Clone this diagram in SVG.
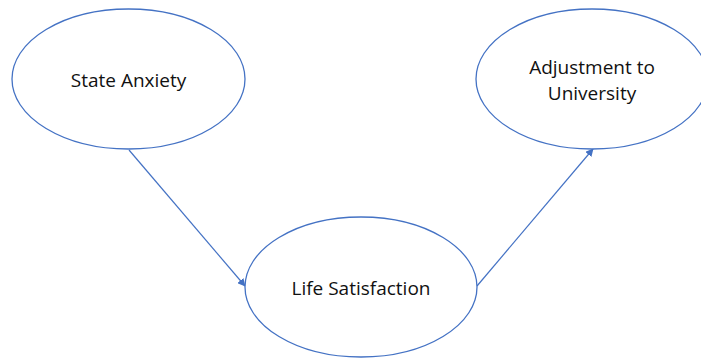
<svg xmlns="http://www.w3.org/2000/svg" width="701" height="358" viewBox="0 0 701 358">
<style>
.node ellipse{fill:#fff;stroke:#4472C4;stroke-width:1.3}
.node text{font-family:"Open Sans","Liberation Sans",sans-serif;font-size:19px;fill:#111;text-anchor:middle}
.edge{stroke:#4472C4;stroke-width:1.2;fill:none;marker-end:url(#ah)}
</style>
<defs>
<marker id="ah" viewBox="0 0 10 10" refX="9" refY="5" markerWidth="8" markerHeight="8" markerUnits="userSpaceOnUse" orient="auto">
<path d="M0,0 L10,5 L0,10 z" fill="#4472C4"/>
</marker>
</defs>
<rect width="701" height="358" fill="#fff"/>
<g id="connectors">
<line class="edge" x1="129" y1="150" x2="245" y2="286"/>
<line class="edge" x1="477" y1="286" x2="593" y2="149"/>
</g>
<g id="state-anxiety" class="node">
<ellipse cx="128.5" cy="79" rx="116.5" ry="70"/>
<text x="128.5" y="87">State Anxiety</text>
</g>
<g id="adjustment" class="node">
<ellipse cx="592" cy="79" rx="116" ry="70"/>
<text x="592" y="74">Adjustment to</text>
<text x="592" y="100">University</text>
</g>
<g id="life-satisfaction" class="node">
<ellipse cx="361" cy="287" rx="116" ry="70"/>
<text x="361" y="295">Life Satisfaction</text>
</g>
</svg>
